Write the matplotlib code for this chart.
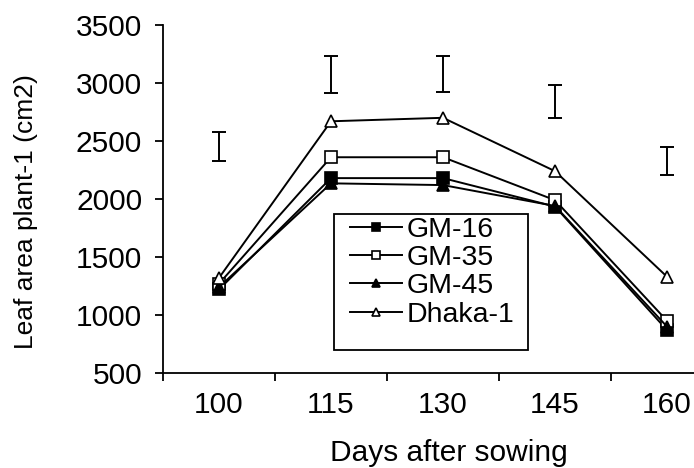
import numpy as np
import matplotlib
matplotlib.use("Agg")
import matplotlib.pyplot as plt
from matplotlib.patches import Rectangle

plt.rcParams['font.family'] = ['Liberation Sans', 'DejaVu Sans']

days = ['100', '115', '130', '145', '160']
gm16 = [1220, 2180, 2180, 1935, 870]
gm35 = [1270, 2360, 2360, 1990, 950]
gm45 = [1240, 2135, 2120, 1940, 900]
dhaka1 = [1320, 2670, 2700, 2240, 1330]
err_center = [2455, 3075, 3075, 2840, 2325]
err_half = [125, 160, 155, 145, 120]

series = [
    ('GM-16', gm16, 's', 'black'),
    ('GM-35', gm35, 's', 'white'),
    ('GM-45', gm45, '^', 'black'),
    ('Dhaka-1', dhaka1, '^', 'white'),
]

fig = plt.figure(figsize=(6.94, 4.68), dpi=100)
ax = fig.add_axes([163 / 694, 95 / 468, 560 / 694, 348 / 468])

x = np.arange(len(days)) + 0.5

for name, vals, mk, face in series:
    ax.plot(x, vals, color='black', lw=1.4, marker=mk, markersize=8.5,
            markerfacecolor=face, markeredgecolor='black', markeredgewidth=1.2,
            label=name, clip_on=False)

ax.errorbar(x, err_center, yerr=err_half, fmt='none', ecolor='black',
            elinewidth=1.4, capsize=5, capthick=1.4)

ax.set_xlim(0, len(days))
ax.set_ylim(500, 3500)
ax.set_yticks(np.arange(500, 3501, 500))
ax.set_xticks(np.arange(0, len(days) + 1))
ax.set_xticklabels([])
ax.set_xticks(x, minor=True)
ax.set_xticklabels(days, minor=True)
ax.tick_params(axis='x', which='major', direction='out', length=6, width=1.3)
ax.tick_params(axis='x', which='minor', length=0, pad=13, labelsize=21.5)
ax.tick_params(axis='y', direction='out', length=6, width=1.3, pad=9, labelsize=21.5)

ax.spines[['top', 'right']].set_visible(False)
ax.spines['left'].set_linewidth(1.3)
ax.spines['bottom'].set_linewidth(1.3)

ax.set_xlabel('Days after sowing', fontsize=21.5, va='top')
ax.xaxis.set_label_coords(0.511, -0.19)
ax.set_ylabel('Leaf area plant-1 (cm2)', fontsize=19)
ax.yaxis.set_label_coords(-0.223, 0.463)

ax.add_patch(Rectangle((0.305, 0.066), 0.347, 0.391, transform=ax.transAxes,
                       fill=False, edgecolor='black', lw=1.3))
ax.legend(loc='upper left', bbox_to_anchor=(0.324, 0.465), frameon=False,
          fontsize=20.5, labelspacing=0.08, handlelength=1.82, handletextpad=0.18,
          borderaxespad=0, borderpad=0.2, markerscale=0.7)

fig.savefig('out.png', dpi=100)
